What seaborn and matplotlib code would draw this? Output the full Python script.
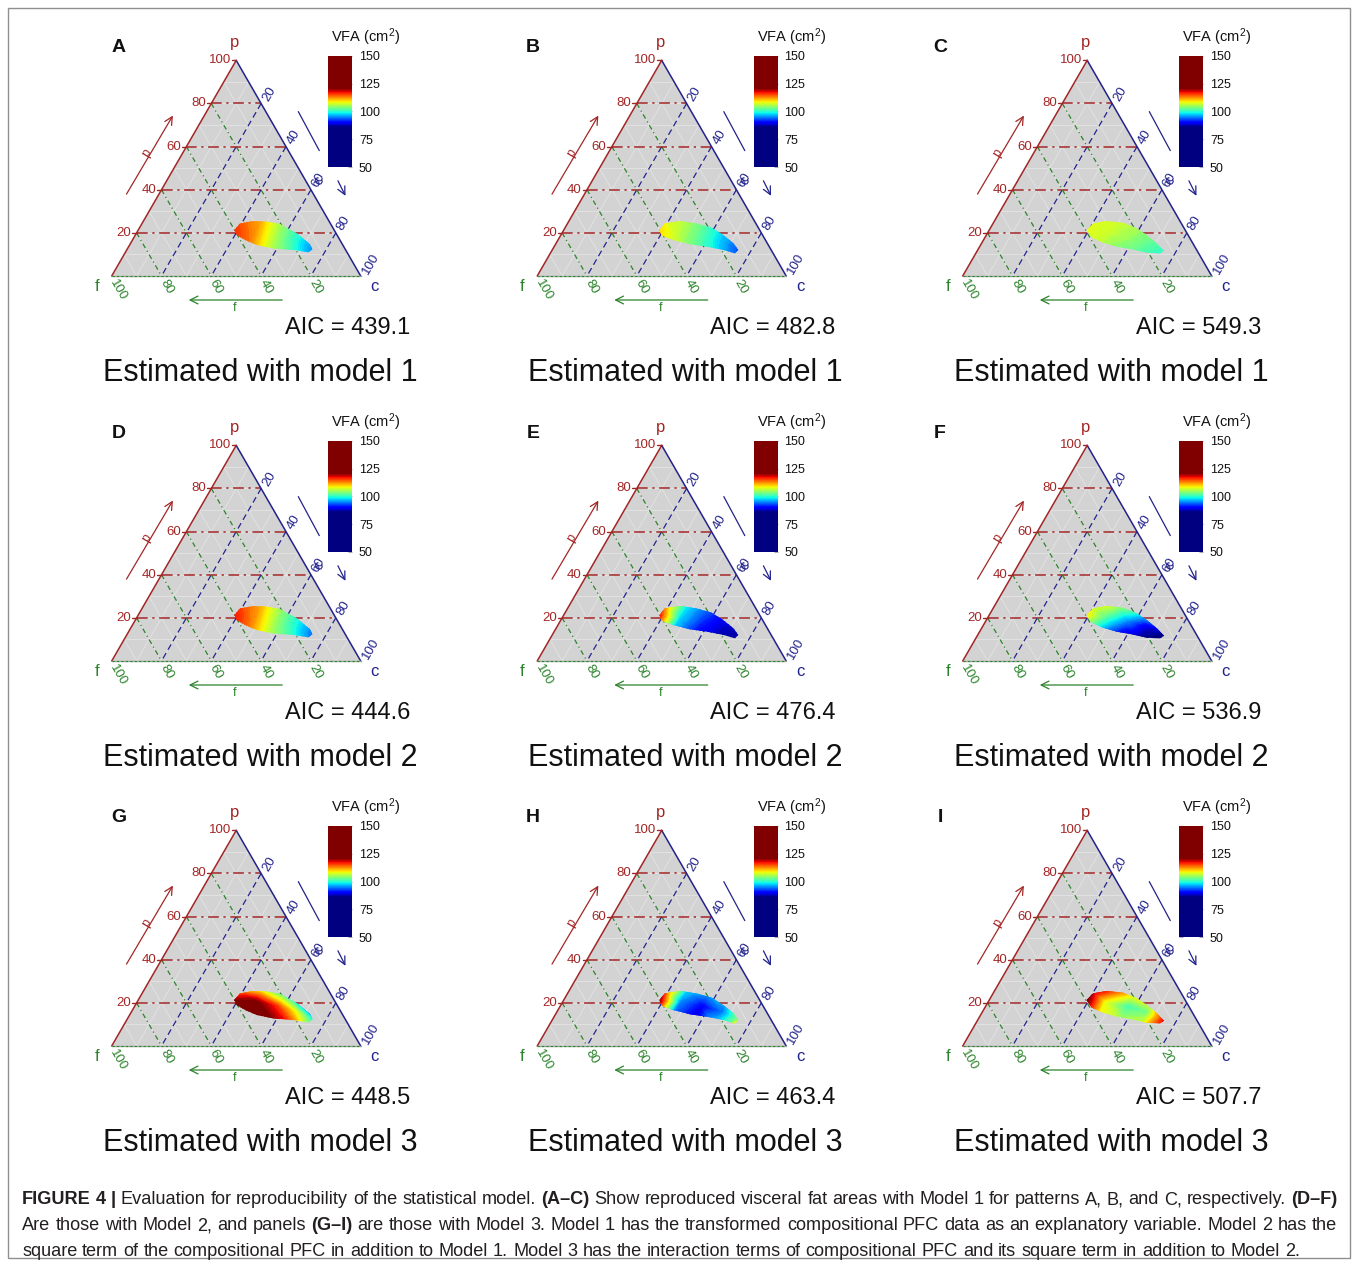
import numpy as np
import matplotlib
matplotlib.use("Agg")
import matplotlib.pyplot as plt
import matplotlib.tri as mtri
from matplotlib.colors import ListedColormap, Normalize
from matplotlib.patches import Polygon, Rectangle
from matplotlib.cm import ScalarMappable
import seaborn as sns

sns.set_theme(style="white")
plt.rcParams['font.family'] = ['Liberation Sans', 'DejaVu Sans']
plt.rcParams['mathtext.fontset'] = 'custom'
plt.rcParams['mathtext.rm'] = 'Liberation Sans'
plt.rcParams['mathtext.it'] = 'Liberation Sans:italic'
plt.rcParams['mathtext.bf'] = 'Liberation Sans:bold'

# ---------------- data ----------------
panel_letters = ["A", "B", "C", "D", "E", "F", "G", "H", "I"]
aic_values = [439.1, 482.8, 549.3, 444.6, 476.4, 536.9, 448.5, 463.4, 507.7]
model_numbers = [1, 1, 1, 2, 2, 2, 3, 3, 3]

grid_ticks = [20, 40, 60, 80]
axis_ticks = [20, 40, 60, 80, 100]
minor_ticks = [10, 30, 50, 70, 90, 20, 40, 60, 80]
cbar_ticks = [50, 75, 100, 125, 150]

# outline of the estimated region (p %, c %) for patterns A, B, C
region_p_A = [21.3, 24.4, 25.5, 25.2, 24.1, 19.8, 14.8, 12.4, 11.0, 12.1, 12.8, 14.4, 16.7, 19.0]
region_c_A = [38.6, 39.3, 44.1, 49.7, 55.5, 64.4, 72.2, 74.4, 73.5, 66.9, 58.5, 51.0, 45.2, 40.7]
region_p_B = [21.3, 24.4, 25.5, 24.4, 22.4, 19.0, 15.2, 12.1, 10.5, 12.1, 13.6, 14.7, 16.7, 18.7]
region_c_B = [38.4, 39.1, 44.6, 51.8, 58.9, 65.2, 71.2, 74.7, 74.2, 68.7, 61.3, 54.0, 46.3, 40.7]
region_p_C = [21.3, 24.4, 25.5, 24.7, 22.1, 19.0, 15.2, 11.7, 10.5, 10.8, 12.4, 13.6, 15.4, 17.8]
region_c_C = [39.1, 40.2, 45.1, 52.1, 58.8, 64.4, 70.3, 75.0, 74.0, 68.5, 61.7, 55.1, 48.8, 42.9]

# sample points where VFA was read (top row, middle row, bottom row)
sample_p = [27, 27.5, 26, 22, 16, 21, 20.5, 18.5, 16, 12, 16, 13, 11, 9, 8]
sample_c = [37, 47, 57, 67, 78, 39, 47, 57, 66, 74.5, 37, 47, 57, 67, 78]

vfa_A = [115, 111, 104, 98.5, 94, 116, 112.5, 105, 99.5, 95, 117.5, 114, 106.5, 101, 96]
vfa_B = [108.5, 105.5, 101, 96.5, 92, 109.5, 106, 101.5, 97, 93, 111, 107.5, 102.5, 98, 93.5]
vfa_C = [108, 107.5, 106.5, 104.5, 102, 108, 107, 105, 102.5, 100.5, 108, 106, 103, 101, 100]
vfa_D = [116, 111, 103.5, 98, 93, 117, 112.5, 104.5, 99, 94, 118, 114, 106, 100.5, 95]
vfa_E = [115, 99, 94, 91, 89, 116, 98, 92, 88.5, 87, 117, 97, 90, 87, 86]
vfa_F = [110, 108, 105, 102, 99, 109, 102, 95, 89, 86, 108, 96, 88, 85, 84]
vfa_G = [110, 104, 96, 85, 84, 121, 122, 116, 108, 100, 125, 126, 123, 117, 104]
vfa_H = [119, 99, 98, 98, 100, 119, 95, 90, 94, 104, 119, 93, 88, 99, 122]
vfa_I = [123, 118, 112, 110, 114, 122, 108, 101, 103, 117, 120, 109, 106, 108, 120]

regions = [(region_p_A, region_c_A), (region_p_B, region_c_B), (region_p_C, region_c_C)]
vfa_panels = [vfa_A, vfa_B, vfa_C, vfa_D, vfa_E, vfa_F, vfa_G, vfa_H, vfa_I]

caption_lines = [
    [("FIGURE 4 |", True), ("Evaluation for reproducibility of the statistical model.", False),
     ("(A\u2013C)", True),
     ("Show reproduced visceral fat areas with Model 1 for patterns A, B, and C, respectively.", False),
     ("(D\u2013F)", True)],
    [("Are those with Model 2, and panels", False), ("(G\u2013I)", True),
     ("are those with Model 3. Model 1 has the transformed compositional PFC data as an "
      "explanatory variable. Model 2 has the", False)],
    [("square term of the compositional PFC in addition to Model 1. Model 3 has the interaction "
      "terms of compositional PFC and its square term in addition to Model 2.", False)],
]

# ---------------- styling ----------------
W, H = 1358, 1265
S = 249.0
H3 = np.sqrt(3) / 2
P_COL = '#a32626'
F_COL = '#2b832b'
C_COL = '#22228c'

jet = matplotlib.colormaps['jet']
levels = np.linspace(50, 150, 256)
cmap = ListedColormap(jet(np.clip((levels - 86) / (121 - 86), 0, 1)))
norm = Normalize(50, 150)
fill_levels = np.linspace(50, 150, 201)

fig = plt.figure(figsize=(W / 100, H / 100), dpi=100)
fig.patch.set_facecolor('white')


def ftext(x, y, s, **kw):
    return fig.text(x / W, 1 - y / H, s, **kw)


def xy(p, c):
    p = np.asarray(p, float) / 100
    c = np.asarray(c, float) / 100
    return c + p / 2, p * H3


def iso(fam, a):
    if fam == 'p':
        return xy([a, a], [0, 100 - a])
    if fam == 'f':
        return xy([100 - a, 0], [0, 100 - a])
    return xy([100 - a, 0], [a, a])


for i, letter in enumerate(panel_letters):
    row, col = divmod(i, 3)
    dx = 425.5 * col
    dy = 385 * row
    ox, oy = 111.7 + dx, 276 + dy
    x0, x1 = ox - 30, ox + 330
    y0, y1 = oy - 255, oy + 45
    ax = fig.add_axes([x0 / W, 1 - y1 / H, (x1 - x0) / W, (y1 - y0) / H])
    ax.set_xlim((x0 - ox) / S, (x1 - ox) / S)
    ax.set_ylim((oy - y1) / S, (oy - y0) / S)
    ax.axis('off')

    # triangle background
    ax.add_patch(Polygon([(0, 0), (1, 0), (0.5, H3)], closed=True, fc='#d3d3d3', ec='none', zorder=0))
    for a in minor_ticks:
        for fam in ('p', 'f', 'c'):
            lx, ly = iso(fam, a)
            ax.plot(lx, ly, color='#e4e4e4', lw=0.6, zorder=1)

    # major grid
    for a in grid_ticks:
        lx, ly = iso('p', a)
        ax.plot(lx, ly, color=P_COL, lw=1.1, ls=(0, (7, 3, 1.5, 3)), zorder=2)
        lx, ly = iso('f', a)
        ax.plot(lx, ly, color=F_COL, lw=0.9, ls=(0, (4, 2.5, 1, 2.5)), zorder=2)
        lx, ly = iso('c', a)
        ax.plot(lx, ly, color=C_COL, lw=0.9, ls=(0, (5, 3)), zorder=2)

    # estimated surface
    rp, rc = regions[col]
    bx, by = xy(rp, rc)
    clip = Polygon(np.column_stack([bx, by]), closed=True, fc='none', ec='none', transform=ax.transData)
    ax.add_patch(clip)
    sx, sy = xy(sample_p, sample_c)
    tri = mtri.Triangulation(sx, sy)
    cs = ax.tricontourf(tri, vfa_panels[i], levels=fill_levels, cmap=cmap, norm=norm,
                        extend='both', zorder=3, antialiased=False)
    cs.set_clip_path(clip)

    # triangle edges
    ax.plot([0, 0.5], [0, H3], color=P_COL, lw=1.1, zorder=4)
    ax.plot([0.5, 1], [H3, 0], color=C_COL, lw=1.1, zorder=4)
    ax.plot([0, 1], [0, 0], color='#9aa89a', lw=1.0, zorder=4)
    ax.plot([0, 1], [0, 0], color=F_COL, lw=0.8, ls=(0, (2, 2)), zorder=4)

    # tick labels
    for a in axis_ticks:
        px_, py_ = xy(a, 0)
        ax.plot([px_ - 0.018, px_], [py_, py_], color=P_COL, lw=1.0, zorder=4)
        ax.text(px_ - 0.022, py_, str(a), color=P_COL, fontsize=9.5, ha='right', va='center')
        cx_, cy_ = xy(100 - a, a)
        ax.text(cx_ + 0.017, cy_ + 0.012, str(a), color=C_COL, fontsize=9.5, rotation=60,
                rotation_mode='anchor', ha='left', va='center')
        fx_, fy_ = xy(0, 100 - a)
        ax.text(fx_ + 0.004, fy_ - 0.02, str(a), color=F_COL, fontsize=9.5, rotation=-60,
                rotation_mode='anchor', ha='left', va='center')

    # axis titles and arrows
    ax.text(0.495, 0.936, "p", color=P_COL, fontsize=12, ha='center', va='center')
    ax.text(-0.06, -0.043, "f", color=F_COL, fontsize=12, ha='center', va='center')
    ax.text(1.057, -0.043, "c", color=C_COL, fontsize=12, ha='center', va='center')
    ax.text(0.8325, 0.3815, "c", color=C_COL, fontsize=11, rotation=60, ha='center', va='center')
    ax.text(0.1406, 0.4928, "p", color=P_COL, fontsize=9, rotation=60, ha='center', va='center')
    ax.text(0.4952, -0.128, "f", color=F_COL, fontsize=9, ha='center', va='center')
    ax.annotate('', xy=(0.2514, 0.654), xytext=(0.0538, 0.3193),
                arrowprops=dict(arrowstyle='->', color=P_COL, lw=0.9, mutation_scale=14))
    ax.annotate('', xy=(0.2984, -0.0964), xytext=(0.696, -0.0964),
                arrowprops=dict(arrowstyle='->', color=F_COL, lw=0.9, mutation_scale=14))
    ax.plot([0.7494, 0.8337], [0.6602, 0.5036], color=C_COL, lw=0.9)
    ax.annotate('', xy=(0.9438, 0.312), xytext=(0.9036, 0.3923),
                arrowprops=dict(arrowstyle='->', color=C_COL, lw=0.9, mutation_scale=14))

    # colorbar
    cax = fig.add_axes([(328 + dx) / W, 1 - (167 + dy) / H, 24 / W, 111 / H])
    cb = fig.colorbar(ScalarMappable(norm=norm, cmap=cmap), cax=cax, ticks=cbar_ticks)
    cb.outline.set_visible(False)
    cax.tick_params(axis='y', which='major', direction='in', length=3, width=0.8,
                    color='#aaaaaa', labelsize=9, labelcolor='#111111', pad=5,
                    left=True, right=True, labelleft=False, labelright=True)
    ftext(366 + dx, 37 + dy, r"VFA (cm$^2$)", ha='center', va='center', fontsize=10.5, color='#111111')

    # texts
    letter_x = [119, 533, 940][col]
    ftext(letter_x, 48 + dy, letter, ha='center', va='center', fontsize=14, weight='bold', color='#111111')
    ftext(410 + dx, 328 + dy, f"AIC = {aic_values[i]}", ha='right', va='center', fontsize=17, color='#111111')
    ftext(260 + dx, 373 + dy, f"Estimated with model {model_numbers[i]}", ha='center', va='center',
          fontsize=22, color='#111111')

# frame around the figure
fig.patches.append(Rectangle((8 / W, 1 - 1258 / H), 1342 / W, 1250 / H, transform=fig.transFigure,
                             fill=False, ec='#8f8f8f', lw=1.0))

# caption, word by word so the first two lines are justified
renderer = fig.canvas.get_renderer()
cap_size = 13.1
left_px, right_px = 22, 1337
for li, segs in enumerate(caption_lines):
    y_px = [1200, 1226, 1251][li]
    words = []
    for text, bold in segs:
        for w in text.split(' '):
            words.append((w, bold))
    artists = []
    widths = []
    for w, bold in words:
        t = ftext(0, y_px, w, ha='left', va='center', fontsize=cap_size,
                  weight='bold' if bold else 'normal', color='#231f20')
        artists.append(t)
        widths.append(t.get_window_extent(renderer).width)
    probe1 = ftext(0, 0, "x x", fontsize=cap_size)
    probe2 = ftext(0, 0, "xx", fontsize=cap_size)
    space = probe1.get_window_extent(renderer).width - probe2.get_window_extent(renderer).width
    probe1.remove()
    probe2.remove()
    if li < 2:
        gap = (right_px - left_px - sum(widths)) / (len(words) - 1)
        gap = max(gap, 0.6 * space)
    else:
        gap = space
    x = left_px
    for t, wdt in zip(artists, widths):
        t.set_x(x / W)
        x += wdt + gap

fig.savefig("out.png", dpi=100, facecolor='white')
